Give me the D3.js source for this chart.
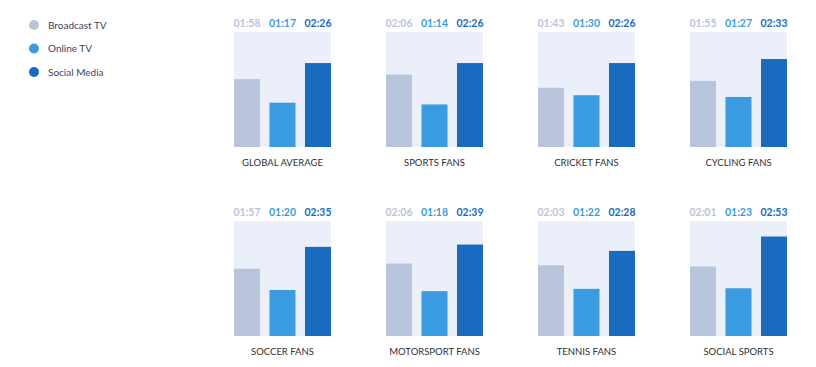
<!DOCTYPE html>
<html><head><meta charset="utf-8">
<script src="https://cdn.jsdelivr.net/npm/d3@7"></script>
<style>body{margin:0;background:#fff;}svg{display:block;font-family:Lato,"Open Sans",sans-serif;}</style>
</head><body>
<script>
const seriesNames = ["Broadcast TV","Online TV","Social Media"];
const categories = ["GLOBAL AVERAGE","SPORTS FANS","CRICKET FANS","CYCLING FANS","SOCCER FANS","MOTORSPORT FANS","TENNIS FANS","SOCIAL SPORTS"];
const broadcastTV = ["01:58","02:06","01:43","01:55","01:57","02:06","02:03","02:01"];
const onlineTV    = ["01:17","01:14","01:30","01:27","01:20","01:18","01:22","01:23"];
const socialMedia = ["02:26","02:26","02:26","02:33","02:35","02:39","02:28","02:53"];
const colors = ["#b8c4dc","#3a9be0","#1a6bbf"];

const W=816,H=367;
const svg=d3.select("body").append("svg").attr("width",W).attr("height",H);
const toMin=s=>{const [h,m]=s.split(":").map(Number);return h*60+m;};

// legend
const lg=svg.append("g");
seriesNames.forEach((n,i)=>{
  const y=25+i*23.5;
  lg.append("circle").attr("cx",34).attr("cy",y).attr("r",5).attr("fill",colors[i]);
  lg.append("text").attr("x",48).attr("y",y+3.5).attr("font-size",10).attr("fill","#3d4260").text(n);
});

const panelW=97, panelH=115;
const colX=d3.scaleLinear().domain([0,1]).range([234,386]);
const rowTop=[32,221];
const x=d3.scaleBand().domain(seriesNames).range([0,panelW]).paddingInner(0.268).paddingOuter(0);
const y=d3.scaleLinear().domain([0,200]).range([panelH,0]);

categories.forEach((c,i)=>{
  const col=i%4,row=Math.floor(i/4);
  const g=svg.append("g").attr("transform",`translate(${colX(col)},${rowTop[row]})`);
  g.append("rect").attr("width",panelW).attr("height",panelH).attr("fill","#ebeff9");
  const vals=[broadcastTV[i],onlineTV[i],socialMedia[i]];
  vals.forEach((v,j)=>{
    const m=toMin(v);
    g.append("rect").attr("x",x(seriesNames[j])).attr("y",y(m)).attr("width",x.bandwidth()).attr("height",panelH-y(m)).attr("fill",colors[j]);
    g.append("text").attr("x",x(seriesNames[j])+x.bandwidth()/2).attr("y",-5.5).attr("text-anchor","middle")
      .attr("font-size",10.5).attr("font-weight",700).attr("fill",colors[j]).text(v);
  });
  g.append("text").attr("x",panelW/2).attr("y",panelH+19).attr("text-anchor","middle").attr("font-size",9.5)
    .attr("fill","#2e2e36").text(c);
});
</script>
</body></html>
